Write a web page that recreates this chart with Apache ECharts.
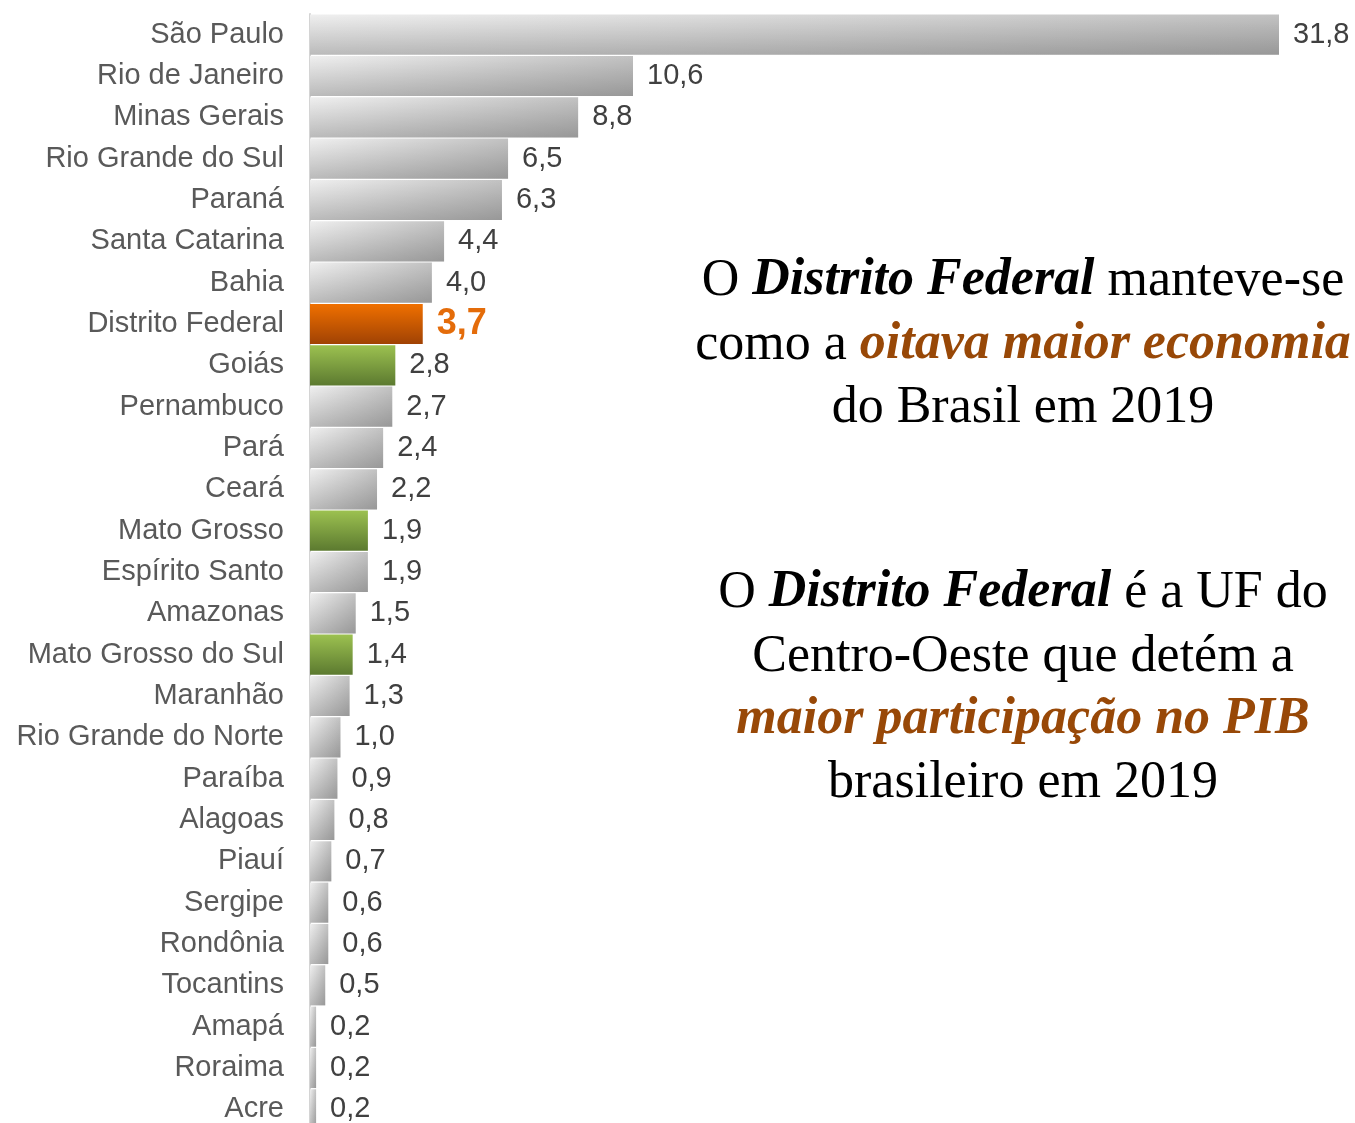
<!DOCTYPE html>
<html>
<head>
<meta charset="utf-8">
<script src="https://cdn.jsdelivr.net/npm/echarts@6/dist/echarts.min.js"></script>
<style>
html,body{margin:0;padding:0;background:#fff;}
#chart{width:1355px;height:1123px;}
</style>
</head>
<body>
<div id="chart"></div>
<script>
const categories = ['São Paulo','Rio de Janeiro','Minas Gerais','Rio Grande do Sul','Paraná','Santa Catarina','Bahia','Distrito Federal','Goiás','Pernambuco','Pará','Ceará','Mato Grosso','Espírito Santo','Amazonas','Mato Grosso do Sul','Maranhão','Rio Grande do Norte','Paraíba','Alagoas','Piauí','Sergipe','Rondônia','Tocantins','Amapá','Roraima','Acre'];
const values = [31.8,10.6,8.8,6.5,6.3,4.4,4.0,3.7,2.8,2.7,2.4,2.2,1.9,1.9,1.5,1.4,1.3,1.0,0.9,0.8,0.7,0.6,0.6,0.5,0.2,0.2,0.2];
const highlightDF = ['Distrito Federal'];
const highlightCO = ['Goiás','Mato Grosso','Mato Grosso do Sul'];

const G = echarts.graphic.LinearGradient;
const greyFill = new G(0,0,1,0,[{offset:0,color:'#efefef'},{offset:1,color:'#c2c2c2'}]);
const orangeFill = new G(0,0,0,1,[{offset:0,color:'#f07000'},{offset:1,color:'#a04204'}]);
const greenFill = new G(0,0,0,1,[{offset:0,color:'#9cc150'},{offset:1,color:'#5c7a30'}]);
const shade = new G(0,0,0,1,[{offset:0,color:'rgba(0,0,0,0)'},{offset:1,color:'rgba(0,0,0,0.22)'}]);

function fmt(v){ return v.toFixed(1).replace('.', ','); }

const baseData = categories.map((c,i)=>{
  let color = greyFill;
  if (highlightDF.includes(c)) color = orangeFill;
  else if (highlightCO.includes(c)) color = greenFill;
  return {value: values[i], itemStyle:{color}};
});
const overlayData = categories.map((c,i)=>{
  const hi = highlightDF.includes(c) || highlightCO.includes(c);
  const item = {value: values[i], itemStyle:{color: hi ? 'rgba(0,0,0,0)' : shade}};
  if (highlightDF.includes(c)) {
    item.label = {color:'#e46c0a', fontWeight:'bold', fontSize:36};
  }
  return item;
});

const serif = '"Liberation Serif", serif';
const FS = 52;
const richStyle = {
  n:{fontFamily:serif, fontSize:FS, fill:'#000', color:'#000'},
  i:{fontFamily:serif, fontSize:FS, fontStyle:'italic', fontWeight:'bold', fill:'#000', color:'#000'},
  h:{fontFamily:serif, fontSize:FS, fontStyle:'italic', fontWeight:'bold', fill:'#984807', color:'#984807'}
};
const lines = [
  {y:281, t:'{n|O }{i|Distrito Federal}{n| manteve-se}'},
  {y:345, t:'{n|como a }{h|oitava maior economia}'},
  {y:408, t:'{n|do Brasil em 2019}'},
  {y:593, t:'{n|O }{i|Distrito Federal}{n| é a UF do}'},
  {y:657, t:'{n|Centro-Oeste que detém a}'},
  {y:720, t:'{h|maior participação no PIB}'},
  {y:783, t:'{n|brasileiro em 2019}'}
];

const chart = echarts.init(document.getElementById('chart'));
chart.setOption({
  animation:false,
  backgroundColor:'#fff',
  grid:{left:310, right:76, top:14, height:1116, containLabel:false, outerBoundsMode:'none'},
  xAxis:{type:'value', min:0, max:31.8, show:false},
  yAxis:{
    type:'category', data:categories, inverse:true,
    axisLine:{show:true, lineStyle:{color:'#d4d4d4', width:2}},
    axisTick:{show:false},
    axisLabel:{color:'#595959', fontSize:29, fontFamily:'"Liberation Sans", Arial, sans-serif', margin:26}
  },
  series:[
    {type:'bar', data:baseData, barCategoryGap:'3%', barGap:'-100%', silent:true},
    {type:'bar', data:overlayData, barCategoryGap:'3%', barGap:'-100%', silent:true,
     label:{show:true, position:'right', distance:14, color:'#404040', fontSize:29,
            fontFamily:'"Liberation Sans", Arial, sans-serif', formatter:p=>fmt(p.value)}}
  ],
  graphic: lines.map(l=>({type:'text', x:1023, y:l.y, style:{text:l.t, align:'center', verticalAlign:'middle', rich:richStyle}}))
});
</script>
</body>
</html>
